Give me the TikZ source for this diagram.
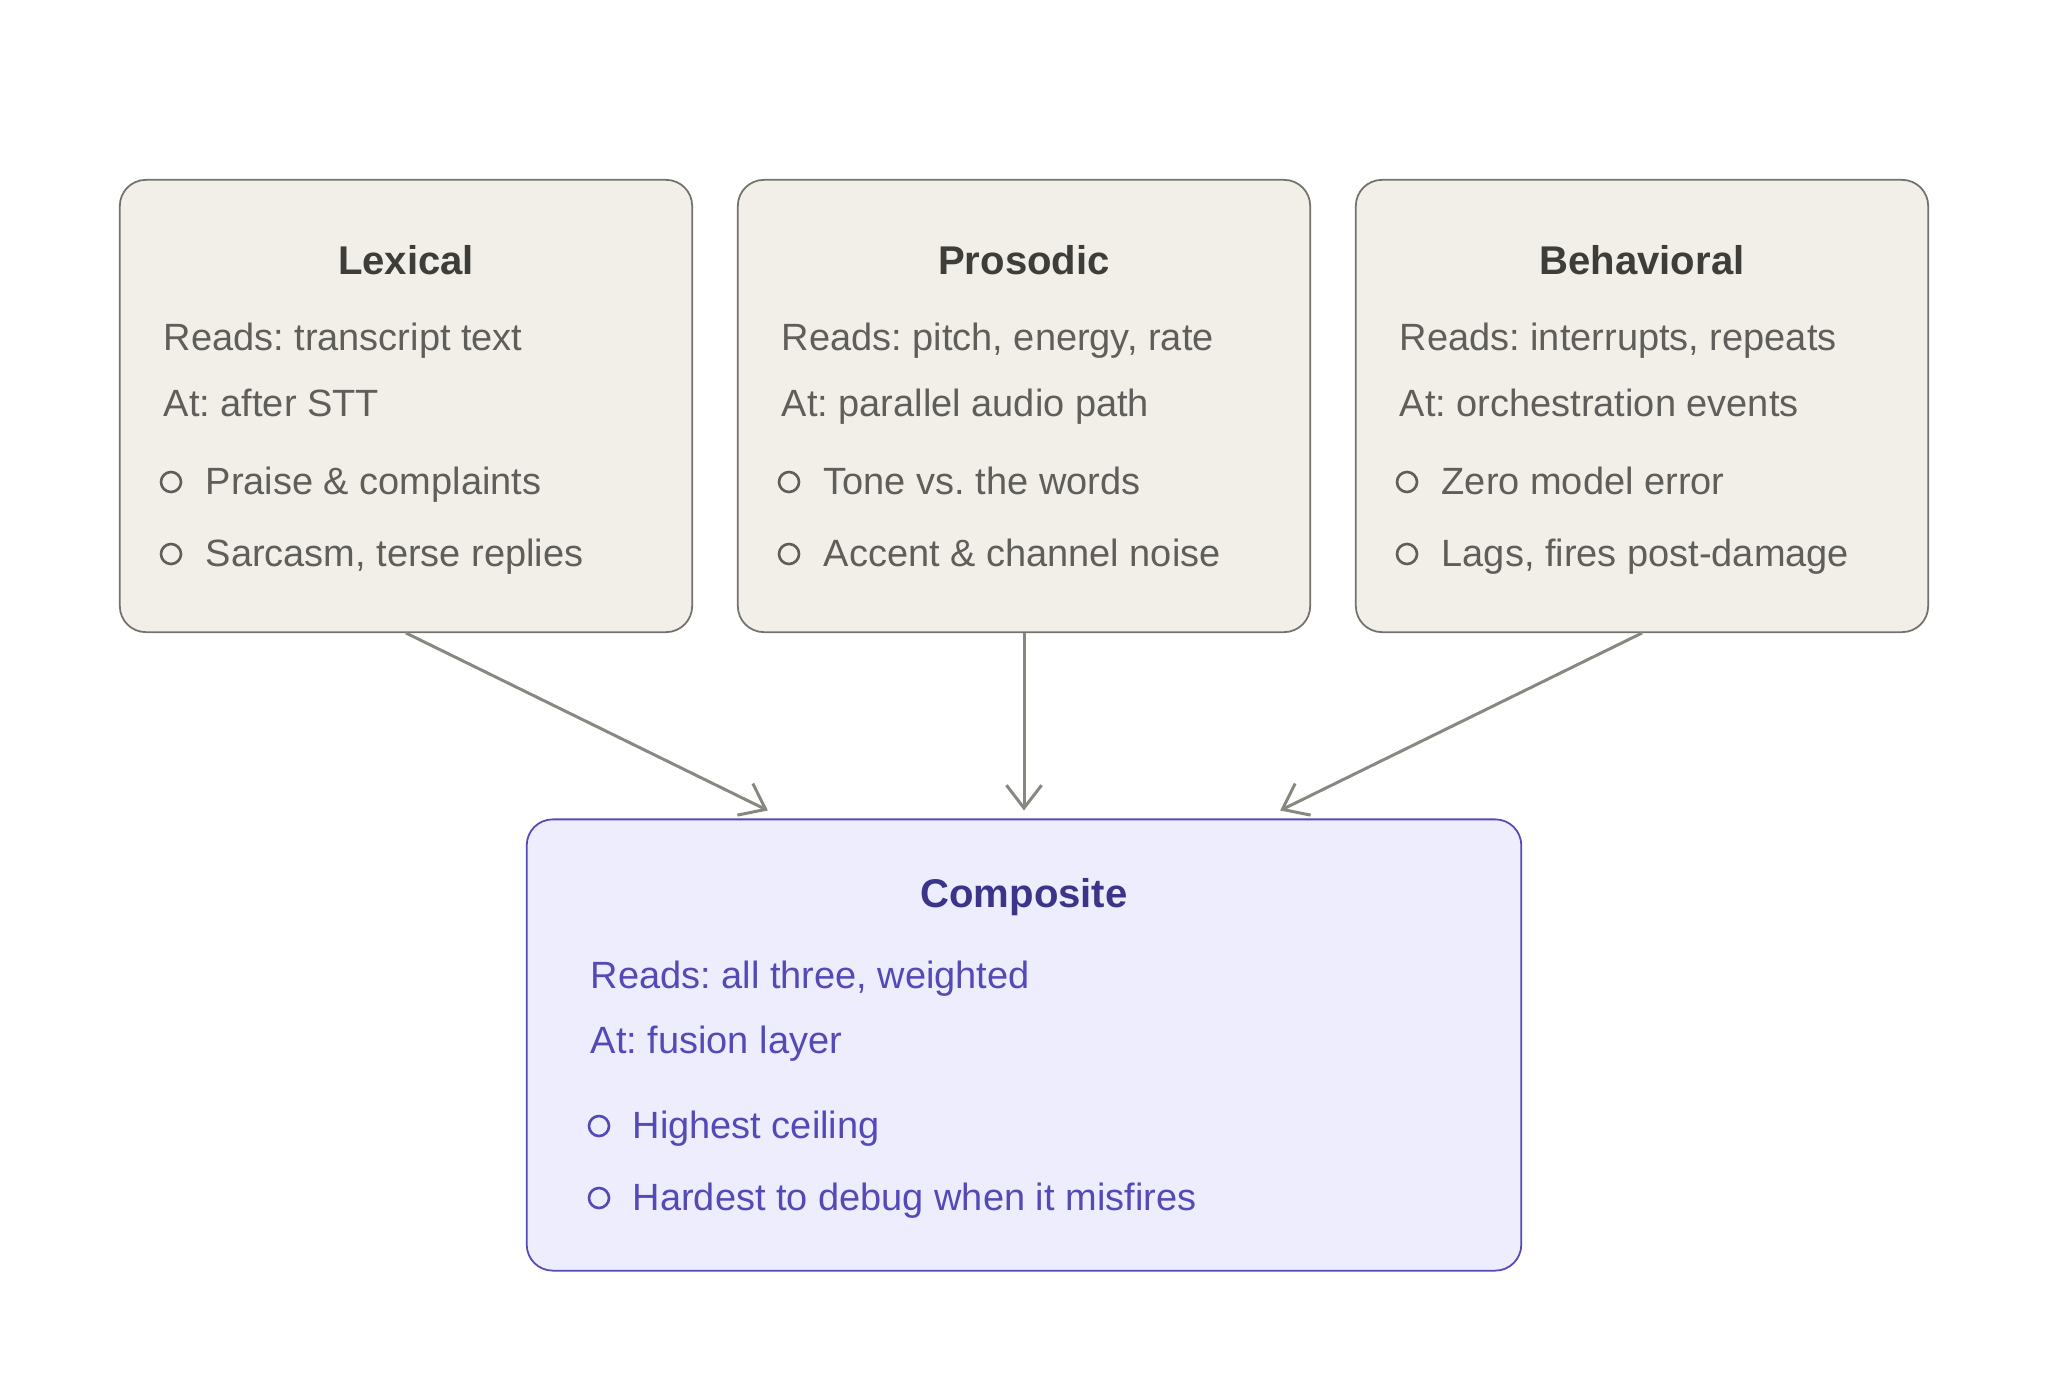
\documentclass[tikz,border=0pt]{standalone}
\usepackage{fontspec}
\setmainfont{Liberation Sans}
\usepackage{xcolor}
\usetikzlibrary{arrows.meta,positioning}
\definecolor{boxfill}{HTML}{F1EFE8}
\definecolor{boxline}{HTML}{73726C}
\definecolor{titlegray}{HTML}{3D3D3A}
\definecolor{bodygray}{HTML}{5F5E5A}
\definecolor{arrowgray}{HTML}{888780}
\definecolor{compfill}{HTML}{EEEDFE}
\definecolor{compline}{HTML}{534AB7}
\definecolor{comptitle}{HTML}{3C3489}
\definecolor{comptext}{HTML}{534AB7}
\frenchspacing

\begin{document}
\begin{tikzpicture}[x=0.01cm, y=-0.01cm, >={Straight Barb[length=6.5pt,width=10pt]},
    box-node/.style={rectangle, draw=boxline, fill=boxfill, line width=0.5pt, rounded corners=0.26cm,
                minimum width=5.72cm, minimum height=4.52cm},
    comp-node/.style={rectangle, draw=compline, fill=compfill, line width=0.5pt, rounded corners=0.26cm,
                minimum width=9.94cm, minimum height=4.51cm},
    title-node/.style={font=\fontsize{11.4}{14}\selectfont\bfseries, text=titlegray},
    text-node/.style={anchor=mid west, inner sep=0pt, font=\fontsize{10.8}{13}\selectfont, text=bodygray},
    dot-node/.style={circle, draw=bodygray, line width=0.75pt, minimum size=0.2cm, inner sep=0pt},
    link/.style={->, draw=arrowgray, line width=0.85pt}]
    \useasboundingbox (0,0) rectangle (2048,1385);
    % top row
    \node[box-node] (lex) at (406,406) {};
    \node[box-node] (pros) at (1024,406) {};
    \node[box-node] (behav) at (1642,406) {};
    \node[comp-node] (comp) at (1024,1045) {};
    % lexical
    \node[title-node] (lextitle) at (406,260) {Lexical};
    \node[text-node] (lexreads) at (163,341) {Reads: transcript text};
    \node[text-node] (lexat) at (163,407) {At: after STT};
    \node[dot-node] (lexdota) at (171,482) {};
    \node[text-node] (lexbula) at (205,485) {Praise \& complaints};
    \node[dot-node] (lexdotb) at (171,554) {};
    \node[text-node] (lexbulb) at (205,557) {Sarcasm, terse replies};
    % prosodic
    \node[title-node] (prostitle) at (1024,260) {Prosodic};
    \node[text-node] (prosreads) at (781,341) {Reads: pitch, energy, rate};
    \node[text-node] (prosat) at (781,407) {At: parallel audio path};
    \node[dot-node] (prosdota) at (789,482) {};
    \node[text-node] (prosbula) at (823,485) {Tone vs. the words};
    \node[dot-node] (prosdotb) at (789,554) {};
    \node[text-node] (prosbulb) at (823,557) {Accent \& channel noise};
    % behavioral
    \node[title-node] (behavtitle) at (1642,260) {Behavioral};
    \node[text-node] (behavreads) at (1399,341) {Reads: interrupts, repeats};
    \node[text-node] (behavat) at (1399,407) {At: orchestration events};
    \node[dot-node] (behavdota) at (1407,482) {};
    \node[text-node] (behavbula) at (1441,485) {Zero model error};
    \node[dot-node] (behavdotb) at (1407,554) {};
    \node[text-node] (behavbulb) at (1441,557) {Lags, fires post-damage};
    % composite
    \node[title-node, text=comptitle] (comptitle) at (1024,897) {Composite};
    \node[text-node, text=comptext] (compreads) at (590,979) {Reads: all three, weighted};
    \node[text-node, text=comptext] (compat) at (590,1044) {At: fusion layer};
    \node[dot-node, draw=comptext] (compdota) at (599,1126) {};
    \node[text-node, text=comptext] (compbula) at (632,1129) {Highest ceiling};
    \node[dot-node, draw=comptext] (compdotb) at (599,1198) {};
    \node[text-node, text=comptext] (compbulb) at (632,1201) {Hardest to debug when it misfires};
    % arrows
    \draw[link] (lex.south) -- ([xshift=-2.56cm, yshift=0.08cm]comp.north);
    \draw[link] (pros.south) -- ([yshift=0.08cm]comp.north);
    \draw[link] (behav.south) -- ([xshift=2.56cm, yshift=0.08cm]comp.north);
\end{tikzpicture}
\end{document}
